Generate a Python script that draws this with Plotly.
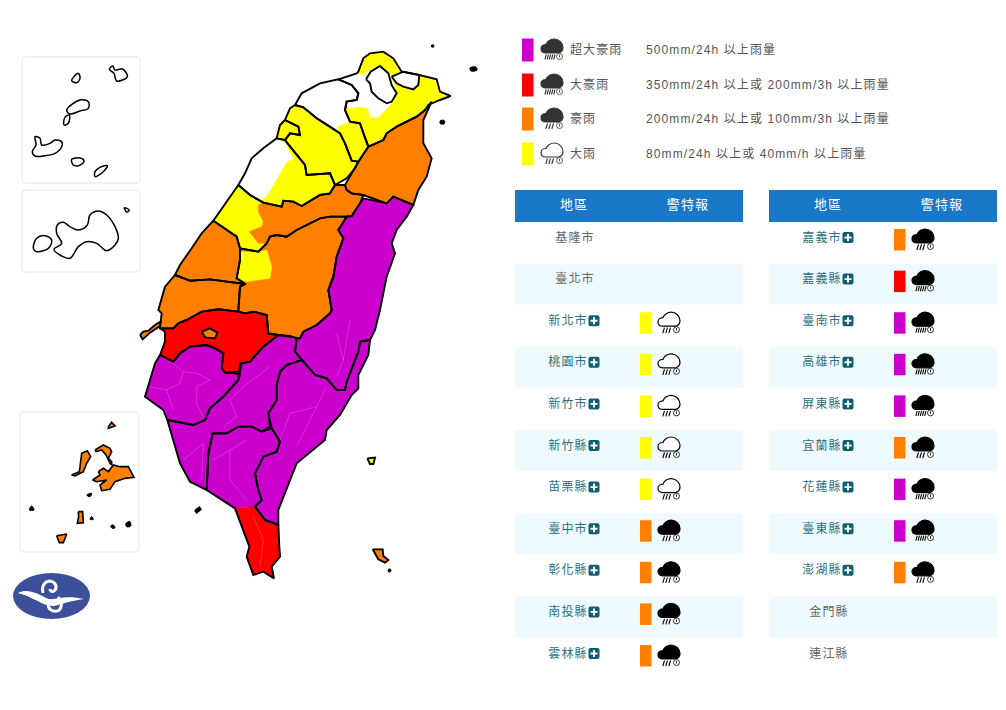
"""臺灣豪雨特報地圖與警特報表。"""

import plotly.graph_objects as go

W, H = 1006, 710
FONT = "Liberation Sans, Noto Sans CJK TC, sans-serif"

LEVEL_COLORS = {"purple": "#cc00cc", "red": "#ff0000", "orange": "#ff8000", "yellow": "#ffff00"}

LEGEND_NAMES = ["超大豪雨", "大豪雨", "豪雨", "大雨"]
LEGEND_LEVELS = ["purple", "red", "orange", "yellow"]
LEGEND_RULES = [
    "500mm/24h 以上雨量",
    "350mm/24h 以上或 200mm/3h 以上雨量",
    "200mm/24h 以上或 100mm/3h 以上雨量",
    "80mm/24h 以上或 40mm/h 以上雨量",
]

LEFT_REGIONS = ["基隆市", "臺北市", "新北市", "桃園市", "新竹市", "新竹縣", "苗栗縣", "臺中市", "彰化縣", "南投縣", "雲林縣"]
LEFT_LEVELS = [None, None, "yellow", "yellow", "yellow", "yellow", "yellow", "orange", "orange", "orange", "orange"]
RIGHT_REGIONS = ["嘉義市", "嘉義縣", "臺南市", "高雄市", "屏東縣", "宜蘭縣", "花蓮縣", "臺東縣", "澎湖縣", "金門縣", "連江縣"]
RIGHT_LEVELS = ["orange", "red", "purple", "purple", "purple", "orange", "purple", "purple", "orange", None, None]


# 輪廓座標以放大裁切圖量取，這裡換回整張圖的像素
def north(pts):
    return [(130 + x / 3, 30 + y / 3) for x, y in pts]


def south(pts):
    return [(130 + x / 3, 300 + y / 3) for x, y in pts]


def isles_top(pts):
    return [(x / 3, 40 + y / 3) for x, y in pts]


def isles_low(pts):
    return [(x / 3, 400 + y / 3) for x, y in pts]


TAIPEI = north([(708, 148), (722, 125), (750, 108), (775, 130), (785, 165), (800, 190), (785, 215), (770, 220), (745, 205), (725, 185), (720, 160)])
KEELUNG = north([(785, 140), (820, 125), (868, 135), (865, 165), (850, 178), (820, 170), (800, 160)])
NEW_TAIPEI = north([(625, 148), (680, 130), (685, 125), (700, 85), (720, 70), (760, 65), (790, 85), (815, 125), (868, 135), (920, 148), (930, 185), (962, 198), (930, 210), (895, 225), (885, 240), (860, 260), (800, 290), (770, 310), (760, 330), (715, 350), (700, 310), (690, 280), (660, 275), (645, 240), (650, 215), (680, 210), (685, 190), (665, 165)])
NEW_TAIPEI_CLEAR = north([(625, 148), (680, 130), (700, 135), (720, 120), (750, 105), (785, 140), (800, 190), (780, 225), (745, 262), (720, 262), (715, 235), (690, 230), (650, 235), (650, 215), (680, 210), (685, 190), (665, 165)])
TAOYUAN = north([(495, 225), (515, 190), (570, 160), (625, 148), (665, 165), (685, 190), (680, 210), (650, 215), (645, 240), (660, 275), (690, 280), (700, 310), (715, 350), (685, 395), (665, 392), (645, 340), (630, 310), (600, 290), (560, 265), (520, 232)])
TAOYUAN_RAIN = north([(620, 292), (650, 280), (660, 275), (690, 280), (700, 310), (715, 350), (685, 395), (665, 392), (645, 340), (630, 310)])
HSINCHU_COUNTY = north([(495, 225), (520, 232), (560, 265), (600, 290), (630, 310), (645, 340), (665, 392), (685, 395), (675, 415), (650, 445), (615, 465), (600, 430), (560, 432), (530, 435), (525, 405), (505, 380), (480, 350), (465, 330), (480, 310), (510, 315), (505, 290), (480, 278), (465, 270), (480, 235)])
HSINCHU_CITY = north([(465, 270), (480, 278), (505, 290), (510, 315), (480, 310), (465, 330), (440, 325), (450, 285)])
MIAOLI = north([(440, 325), (465, 330), (480, 350), (505, 380), (525, 405), (530, 435), (560, 432), (600, 430), (615, 465), (600, 490), (570, 495), (515, 528), (490, 515), (460, 512), (455, 530), (400, 518), (360, 495), (325, 465), (345, 430), (365, 385), (400, 355)])
MIAOLI_CLEAR = north([(325, 465), (345, 430), (365, 385), (400, 355), (440, 325), (465, 340), (480, 370), (490, 385), (470, 395), (450, 430), (415, 490), (390, 515), (360, 495)])
TAICHUNG = north([(325, 465), (360, 495), (400, 518), (455, 530), (460, 512), (490, 515), (515, 528), (570, 495), (600, 490), (615, 465), (645, 465), (650, 480), (665, 490), (700, 495), (690, 520), (665, 558), (650, 560), (600, 560), (570, 565), (540, 580), (500, 600), (470, 620), (440, 615), (420, 620), (410, 640), (385, 665), (330, 655), (320, 620), (290, 600), (250, 572)])
TAICHUNG_ORANGE = north([(385, 525), (400, 518), (455, 530), (460, 512), (490, 515), (515, 528), (570, 495), (600, 490), (615, 465), (645, 465), (650, 480), (665, 490), (700, 495), (690, 520), (665, 558), (650, 560), (600, 560), (570, 565), (540, 580), (500, 600), (470, 620), (440, 615), (420, 620), (410, 640), (385, 640), (358, 605), (395, 590), (400, 575), (385, 545)])
CHANGHUA = north([(250, 572), (290, 600), (320, 620), (330, 655), (330, 690), (320, 745), (345, 762), (240, 748), (180, 752), (135, 735), (150, 705), (185, 655), (215, 610)])
NANTOU = north([(330, 655), (385, 665), (410, 640), (420, 620), (440, 615), (470, 620), (500, 600), (540, 580), (570, 565), (600, 560), (650, 560), (625, 600), (640, 625), (620, 680), (610, 740), (595, 780), (605, 840)]) + south([(600, 40), (560, 75), (520, 95), (510, 115), (445, 105), (415, 100), (410, 45), (370, 35), (345, 40), (325, 35)]) + north([(325, 840), (330, 770), (345, 762), (320, 745), (330, 690)])
NANTOU_RAIN = north([(330, 665), (385, 665), (410, 660), (425, 710), (420, 745), (350, 755), (320, 745), (330, 690)])
YUNLIN = north([(135, 735), (180, 752), (240, 748), (345, 762), (330, 770), (325, 840)]) + south([(325, 35), (265, 28), (215, 35), (170, 60), (145, 70), (130, 85), (90, 85), (95, 40)]) + north([(85, 840), (105, 770)])
CHIAYI_COUNTY = south([(90, 85), (130, 85), (145, 70), (170, 60), (215, 35), (265, 28), (325, 35), (345, 40), (370, 35), (410, 45), (415, 100), (445, 105), (400, 140), (360, 185), (335, 190), (330, 215), (285, 218), (275, 205), (280, 160), (255, 145), (230, 135), (180, 140), (150, 160), (130, 185), (90, 165), (105, 125), (105, 95)])
CHIAYI_CITY = south([(215, 95), (240, 85), (262, 98), (255, 115), (225, 112)])
TAINAN = south([(90, 165), (130, 185), (150, 160), (180, 140), (230, 135), (255, 145), (280, 160), (275, 205), (285, 218), (330, 222), (325, 240), (280, 290), (240, 325), (225, 360), (190, 375), (150, 368), (112, 360), (100, 330), (45, 290), (60, 240), (75, 190)])
KAOHSIUNG = south([(445, 105), (480, 108), (500, 115), (495, 155), (515, 180), (470, 195), (450, 215), (440, 255), (440, 300), (415, 340), (420, 380), (395, 395), (365, 380), (325, 380), (290, 400), (248, 400), (235, 460), (230, 570), (180, 545), (150, 490), (112, 360), (150, 368), (190, 375), (225, 360), (240, 325), (280, 290), (325, 240), (330, 190), (360, 185), (400, 140)])
PINGTUNG = south([(248, 400), (290, 400), (325, 380), (365, 380), (395, 395), (425, 385), (450, 425), (440, 455), (400, 470), (375, 520), (385, 570), (395, 600), (375, 620), (315, 625), (230, 570), (235, 460)])
PINGTUNG_SOUTH = south([(315, 625), (375, 620), (395, 650), (405, 660), (445, 675), (448, 740), (450, 770), (425, 800), (432, 835), (400, 815), (370, 825), (350, 770), (358, 740), (340, 690)])
TAITUNG = south([(515, 180), (555, 225), (590, 235), (620, 270), (645, 270), (650, 245), (685, 155), (690, 125), (720, 120), (715, 165), (685, 225), (685, 265), (665, 285), (630, 345), (590, 390), (585, 420), (500, 490), (445, 630), (445, 675), (405, 660), (375, 620), (395, 600), (385, 570), (375, 520), (400, 470), (440, 455), (450, 425), (425, 385), (415, 340), (440, 300), (440, 255), (450, 215), (470, 195)])
HUALIEN = north([(700, 505), (770, 520), (790, 500), (850, 525), (830, 560), (800, 600), (785, 640), (795, 670), (770, 740), (750, 840)]) + south([(735, 90), (720, 120), (690, 125), (685, 155), (650, 245), (645, 270), (620, 270), (590, 235), (555, 225), (515, 180), (495, 155), (500, 115), (510, 115), (520, 95), (560, 75), (600, 40)]) + north([(605, 840), (595, 780), (610, 740), (620, 680), (640, 625), (625, 600), (650, 560), (665, 558), (690, 520)])
YILAN = north([(905, 215), (880, 270), (880, 340), (905, 385), (890, 440), (865, 480), (850, 525), (790, 500), (770, 520), (700, 495), (665, 490), (650, 480), (645, 465), (685, 395), (715, 350), (760, 330), (770, 310), (800, 290), (860, 260), (885, 240)])

SANDBAR = south([(30, 105), (38, 118), (60, 98), (90, 78), (90, 65), (75, 75), (55, 92), (40, 95)])
GREEN_ISLAND = south([(712, 475), (735, 473), (730, 492), (720, 492)])
LANYU = south([(728, 748), (758, 748), (760, 768), (775, 780), (765, 788), (745, 778)])
LIUQIU = south([(195, 632), (208, 622), (212, 628), (200, 638)])
TINY_DOTS = [
    north([(905, 45), (911, 45), (911, 51), (905, 51)]),
    north([(931, 272), (943, 272), (943, 281), (931, 281)]),
    south([(775, 808), (782, 808), (782, 815), (775, 815)]),
    [(470, 68), (476, 67), (477, 70), (471, 71)],
]

MATSU = [
    isles_top([(215, 122), (235, 100), (240, 115), (230, 128)]),
    isles_top([(328, 88), (338, 78), (345, 90), (368, 87), (382, 110), (350, 123), (342, 100)]),
    isles_top([(200, 210), (240, 180), (265, 185), (265, 205), (240, 213), (210, 222)]),
    isles_top([(192, 255), (195, 232), (208, 225), (205, 250)]),
    isles_top([(105, 290), (120, 295), (125, 315), (150, 310), (165, 300), (185, 305), (185, 320), (165, 340), (135, 347), (105, 348), (97, 335), (108, 315)]),
    isles_top([(215, 358), (245, 355), (252, 365), (235, 377), (220, 375)]),
    isles_top([(285, 395), (300, 382), (322, 377), (310, 395), (285, 410)]),
]
KINMEN = [
    isles_top([(172, 555), (190, 547), (210, 560), (235, 570), (262, 555), (270, 525), (295, 513), (320, 525), (345, 560), (355, 595), (345, 615), (320, 632), (290, 610), (260, 605), (235, 620), (210, 655), (185, 648), (162, 628), (185, 610), (170, 580)]),
    isles_top([(100, 625), (110, 595), (135, 587), (155, 600), (145, 625), (110, 635)]),
    isles_top([(373, 503), (388, 510), (380, 516)]),
]
PENGHU = [
    isles_low([(295, 215), (310, 205), (325, 215), (340, 195), (360, 200), (385, 200), (402, 232), (375, 235), (345, 245), (330, 268), (305, 272), (300, 255), (320, 240), (290, 245), (278, 240), (300, 225)]),
    isles_low([(240, 200), (245, 160), (262, 152), (272, 170), (260, 190), (250, 215), (225, 228), (215, 225), (238, 215)]),
    isles_low([(285, 150), (310, 135), (330, 145), (335, 155), (325, 175), (335, 185), (335, 195), (330, 190), (318, 165), (305, 150), (288, 155)]),
    isles_low([(325, 80), (335, 67), (345, 78), (325, 85)]),
    isles_low([(235, 335), (248, 335), (250, 368), (232, 370), (236, 350)]),
    isles_low([(170, 407), (200, 402), (190, 428), (178, 428)]),
]
PENGHU_SPECKS = [
    isles_low([(260, 285), (275, 280), (270, 290)]),
    isles_low([(88, 330), (95, 318), (102, 330)]),
    isles_low([(270, 358), (275, 350), (280, 358)]),
    isles_low([(332, 378), (340, 375), (345, 383), (337, 385)]),
    isles_low([(378, 370), (390, 365), (392, 378), (380, 380)]),
]

TOWNSHIP_LINES = [
    south([(130, 190), (160, 215), (200, 220), (240, 240), (200, 260), (200, 310), (225, 360)]),
    south([(60, 260), (110, 270), (150, 250), (160, 215)]),
    south([(110, 270), (130, 330)]),
    south([(340, 260), (300, 300), (320, 350), (280, 380)]),
    south([(340, 260), (420, 200)]),
    south([(590, 260), (560, 320), (480, 340), (450, 420)]),
    south([(560, 320), (500, 440)]),
    south([(620, 100), (640, 180), (620, 230)]),
    south([(660, 60), (640, 180)]),
    south([(250, 480), (300, 450), (350, 420)]),
    south([(300, 450), (300, 540), (350, 600)]),
    south([(160, 480), (220, 430), (215, 540)]),
    south([(370, 650), (400, 720), (390, 800)]),
]

# 縣市底色（填色在前，局部色塊蓋在上面，黑框最後畫）
COUNTY_FILLS = [
    (NEW_TAIPEI, "yellow"), (TAOYUAN, "#ffffff"),
    (HSINCHU_COUNTY, "yellow"), (HSINCHU_CITY, "yellow"), (MIAOLI, "yellow"), (TAICHUNG, "yellow"),
    (CHANGHUA, "orange"), (NANTOU, "orange"), (YUNLIN, "orange"), (CHIAYI_COUNTY, "red"),
    (TAINAN, "purple"), (KAOHSIUNG, "purple"), (PINGTUNG, "purple"), (PINGTUNG_SOUTH, "red"),
    (TAITUNG, "purple"), (HUALIEN, "purple"), (YILAN, "orange"), (SANDBAR, "orange"),
    (GREEN_ISLAND, "yellow"), (LANYU, "orange"), (LIUQIU, "#000000"),
]
PATCHES = [
    (NEW_TAIPEI_CLEAR, "#ffffff"), (TAIPEI, "#ffffff"), (KEELUNG, "#ffffff"), (TAOYUAN_RAIN, "yellow"),
    (MIAOLI_CLEAR, "#ffffff"), (TAICHUNG_ORANGE, "orange"), (NANTOU_RAIN, "yellow"), (CHIAYI_CITY, "orange"),
]
OUTLINES = [
    TAIPEI, KEELUNG, NEW_TAIPEI, TAOYUAN, HSINCHU_COUNTY, HSINCHU_CITY, MIAOLI, TAICHUNG, CHANGHUA,
    NANTOU, YUNLIN, CHIAYI_COUNTY, CHIAYI_CITY, TAINAN, KAOHSIUNG, TAITUNG, HUALIEN, YILAN, SANDBAR,
    GREEN_ISLAND, LANYU, LIUQIU,
]
# 屏東縣與恆春半島之間沒有黑框，分開畫
PINGTUNG_BORDERS = [
    south([(315, 625), (230, 570), (235, 460), (248, 400), (290, 400), (325, 380), (365, 380), (395, 395), (425, 385), (450, 425), (440, 455), (400, 470), (375, 520), (385, 570), (395, 600), (375, 620)]),
    south([(315, 625), (340, 690), (358, 740), (350, 770), (370, 825), (400, 815), (432, 835), (425, 800), (450, 770), (448, 740), (445, 675), (405, 660), (375, 620)]),
]


def add_poly(fig, pts, fill=None, line_color=None, width=1.9, shape="linear", close=True):
    xs = [p[0] for p in pts] + ([pts[0][0]] if close else [])
    ys = [p[1] for p in pts] + ([pts[0][1]] if close else [])
    color = LEVEL_COLORS.get(fill, fill)
    fig.add_trace(
        go.Scatter(
            x=xs,
            y=ys,
            mode="lines",
            fill="toself" if fill else "none",
            fillcolor=color,
            line=dict(color=line_color or color, width=width if line_color else 0.5, shape=shape),
            hoverinfo="skip",
            showlegend=False,
        )
    )


def add_text(fig, x, y, label, color, size=12, position="middle center"):
    fig.add_trace(
        go.Scatter(
            x=[x],
            y=[y],
            mode="text",
            text=[label],
            textposition=position,
            textfont=dict(family=FONT, size=size, color=color),
            hoverinfo="skip",
            showlegend=False,
        )
    )


def rect(x0, y0, x1, y1, fill):
    return dict(type="rect", x0=x0, y0=y0, x1=x1, y1=y1, fillcolor=fill, line_width=0, layer="below")


def rounded(x0, y0, x1, y1, r=4):
    path = (
        f"M{x0 + r},{y0} L{x1 - r},{y0} Q{x1},{y0} {x1},{y0 + r} L{x1},{y1 - r} Q{x1},{y1} {x1 - r},{y1} "
        f"L{x0 + r},{y1} Q{x0},{y1} {x0},{y1 - r} L{x0},{y0 + r} Q{x0},{y0} {x0 + r},{y0} Z"
    )
    return dict(type="path", path=path, fillcolor="#ffffff", line=dict(color="#eeeeee", width=1.5), layer="below")


def rain_icon(x, y, level, ink):
    """雲雨圖示，左上角為 (x, y)，大雨為空心雲。"""
    def p(dx, dy):
        return f"{x + dx},{y + dy}"

    cloud = (
        f"M{p(5, 14)} C{p(1, 14)} {p(0, 11.5)} {p(0, 9.5)} C{p(0, 7)} {p(2.5, 5.5)} {p(5, 5.5)} "
        f"C{p(6, 2)} {p(10, 0)} {p(13, 0)} C{p(18, 0)} {p(22, 4)} {p(22, 8.5)} C{p(22, 11)} {p(20.5, 13)} {p(18, 14)} Z"
    )
    if level in ("purple", "red"):
        rain = " ".join(f"M{p(5.2 + i * 2.2, 15.5)} L{p(3.9 + i * 2.2, 20.5)}" for i in range(5))
    else:
        rain = " ".join(f"M{p(6.5 + i * 3, 15.5)} L{p(4.8 + i * 3, 21)}" for i in range(3))
    filled = level != "yellow"
    return [
        dict(type="path", path=cloud, fillcolor=ink if filled else "#ffffff", line=dict(color=ink, width=1.2), layer="below"),
        dict(type="path", path=rain, line=dict(color=ink, width=1.1), layer="below"),
        dict(type="circle", x0=x + 15.5, y0=y + 14.5, x1=x + 21.5, y1=y + 20.5, fillcolor="#ffffff", line=dict(color=ink, width=0.8), layer="below"),
        dict(type="path", path=f"M{p(18.5, 15.8)} L{p(18.5, 18.6)}", line=dict(color=ink, width=0.8), layer="below"),
    ]


def plus_icon(x, y):
    """地區名稱旁的加號按鈕。"""
    box = dict(type="path", path=(
        f"M{x - 3.5},{y - 5.5} L{x + 3.5},{y - 5.5} Q{x + 5.5},{y - 5.5} {x + 5.5},{y - 3.5} L{x + 5.5},{y + 3.5} Q{x + 5.5},{y + 5.5} {x + 3.5},{y + 5.5} "
        f"L{x - 3.5},{y + 5.5} Q{x - 5.5},{y + 5.5} {x - 5.5},{y + 3.5} L{x - 5.5},{y - 3.5} Q{x - 5.5},{y - 5.5} {x - 3.5},{y - 5.5} Z"
    ), fillcolor="#0f5f70", line_width=0, layer="below")
    cross = dict(type="path", path=f"M{x - 3.5},{y} L{x + 3.5},{y} M{x},{y - 3.5} L{x},{y + 3.5}", line=dict(color="#ffffff", width=1.9), layer="below")
    return [box, cross]


fig = go.Figure()
shapes = [rounded(22, 57, 140, 183), rounded(22, 190, 140, 272), rounded(20, 412, 139, 552)]

# 圖例
for idx, name in enumerate(LEGEND_NAMES):
    level = LEGEND_LEVELS[idx]
    row_y = [50, 85, 119, 154][idx]
    shapes.append(rect(522, row_y - 11.5, 533.5, row_y + 11.5, LEVEL_COLORS[level]))
    shapes += rain_icon(541, row_y - 11, level, "#333333")
    add_text(fig, 570, row_y + 0.5, name, "#555555", position="middle right")
    add_text(fig, 646, row_y + 0.5, LEGEND_RULES[idx], "#555555", position="middle right")

# 警特報表
ROW_STEP = 41.6
for table_x, regions, levels in ((515, LEFT_REGIONS, LEFT_LEVELS), (769, RIGHT_REGIONS, RIGHT_LEVELS)):
    shapes.append(rect(table_x, 190, table_x + 228, 222, "#1a78c8"))
    add_text(fig, table_x + 59, 206, "地區", "#ffffff", size=13)
    add_text(fig, table_x + 173, 206, "警特報", "#ffffff", size=13)
    for idx, region in enumerate(regions):
        row_y = 237.5 + idx * ROW_STEP
        if idx % 2 == 1:
            shapes.append(rect(table_x, 222 + idx * ROW_STEP, table_x + 228, 263 + idx * ROW_STEP, "#eefafd"))
        level = levels[idx]
        if level is None:
            add_text(fig, table_x + 60, row_y + 1, region, "#666666")
            continue
        add_text(fig, table_x + 53, row_y + 1, region, "#2a7283")
        shapes += plus_icon(table_x + 79, row_y)
        shapes.append(rect(table_x + 125, row_y - 8.5, table_x + 136.5, row_y + 13, LEVEL_COLORS[level]))
        shapes += rain_icon(table_x + 143, row_y - 8.5, level, "#000000")

# 地圖
for pts, color in COUNTY_FILLS:
    add_poly(fig, pts, fill=color)
for pts, color in PATCHES:
    add_poly(fig, pts, fill=color)
for line in TOWNSHIP_LINES:
    fig.add_trace(
        go.Scatter(
            x=[p[0] for p in line],
            y=[p[1] for p in line],
            mode="lines",
            line=dict(color="rgba(255,255,255,0.28)", width=0.7),
            hoverinfo="skip",
            showlegend=False,
        )
    )
for pts in OUTLINES:
    add_poly(fig, pts, line_color="#000000")
for pts in PINGTUNG_BORDERS:
    add_poly(fig, pts, line_color="#000000", close=False)
for pts in MATSU + KINMEN:
    add_poly(fig, pts, fill="#ffffff", line_color="#000000", width=1.5, shape="spline")
for pts in PENGHU:
    add_poly(fig, pts, fill="orange", line_color="#000000", width=1.6)
for pts in PENGHU_SPECKS + TINY_DOTS:
    add_poly(fig, pts, fill="#000000", line_color="#000000", width=1, shape="spline")

# 氣象署標誌
shapes.append(dict(type="circle", x0=13, y0=573, x1=90, y1=619, fillcolor="#3b5099", line_width=0))
shapes.append(dict(
    type="path",
    path="M18,593 C28,588 38,594 46,598 C54,602 62,594 84,599 C70,601 62,604 54,606 C44,607 32,596 18,593 Z",
    fillcolor="#ffffff", line_width=0,
))
shapes.append(dict(type="path", path="M43,593 C41,585 46,581 50,581 C56,582 58,588 54,591 C52,592 50,591 50,589", line=dict(color="#ffffff", width=3)))
shapes.append(dict(type="path", path="M58,597 C63,602 62,610 57,611 C51,612 47,608 49,603 C50,601 52,601 53,602", line=dict(color="#ffffff", width=3)))

fig.update_layout(
    width=W,
    height=H,
    margin=dict(l=0, r=0, t=0, b=0),
    paper_bgcolor="#ffffff",
    plot_bgcolor="#ffffff",
    showlegend=False,
    shapes=shapes,
    xaxis=dict(range=[0, W], visible=False, fixedrange=True),
    yaxis=dict(range=[H, 0], visible=False, fixedrange=True),
)

# 頁面留白歸零，文字加上字距
POST_SCRIPT = """
document.body.style.margin = '0';
var s = document.createElement('style');
s.textContent = '.textpoint text { letter-spacing: 1.1px; }';
document.head.appendChild(s);
"""
fig.write_html("out.html", config={"displayModeBar": False}, post_script=POST_SCRIPT)
